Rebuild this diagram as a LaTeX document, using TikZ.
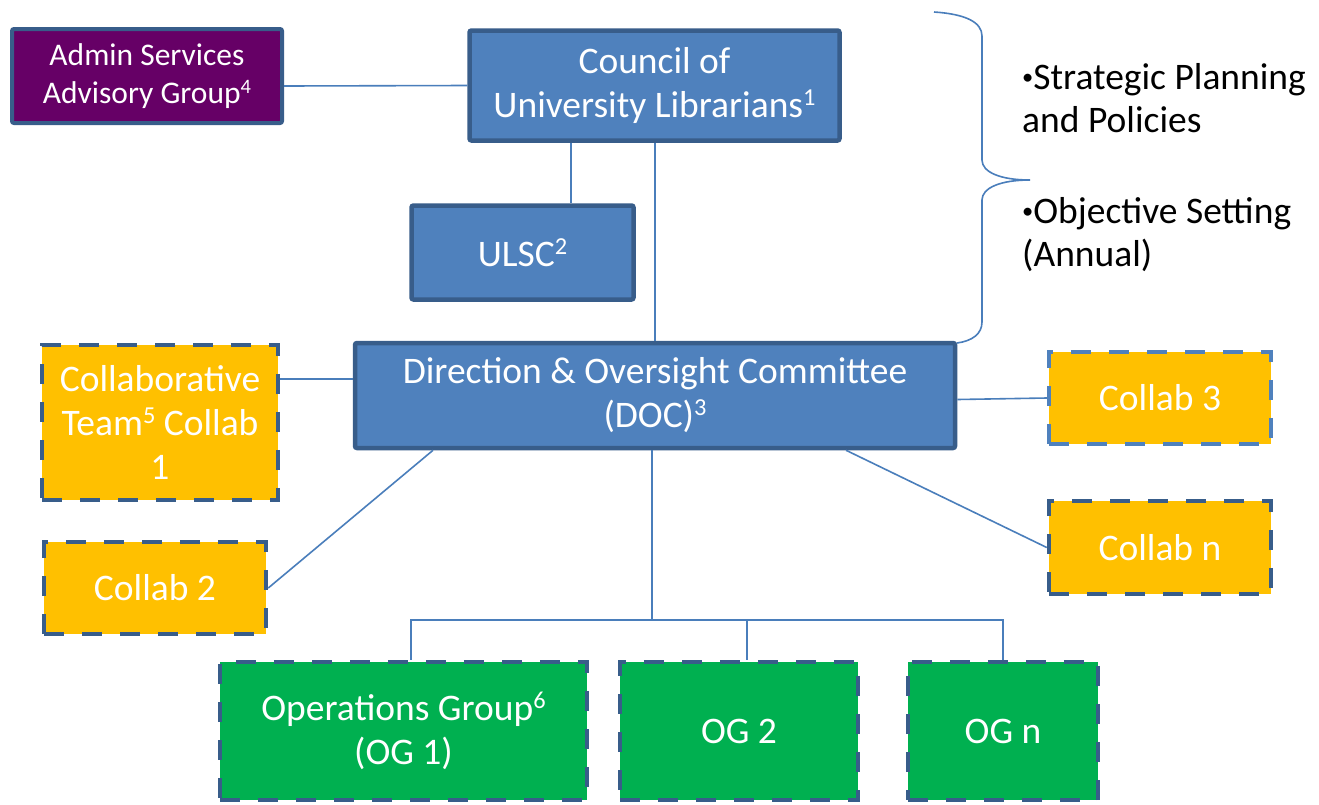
\documentclass[tikz,border=0pt]{standalone}
\usepackage{fontspec}
\setmainfont{Carlito}
\definecolor{boxblue}{HTML}{4F81BD}
\definecolor{edgeblue}{HTML}{385D8A}
\definecolor{lineblue}{HTML}{4A7EBB}
\definecolor{purp}{HTML}{660066}
\definecolor{gold}{HTML}{FFC000}
\definecolor{ogreen}{HTML}{00B050}
\newcommand{\supnum}[1]{\raisebox{0.33em}{\scalebox{0.65}{#1}}}
\newcommand{\smallbullet}{\raisebox{0.12em}{\scalebox{0.6}{•}}}
\tikzset{
  base/.style={rectangle, inner sep=0pt, align=center, text=white,
    font=\fontsize{37.5}{44}\selectfont},
  solidbox/.style={base, draw=edgeblue, line width=4.5pt, rounded corners=2pt, fill=boxblue},
  adminbox/.style={base, draw=edgeblue, line width=4pt, rounded corners=2pt, fill=purp,
    font=\fontsize{31.5}{38}\selectfont},
  collabbox/.style={base, draw=edgeblue, line width=4.5pt, fill=gold,
    dash pattern=on 20pt off 18pt},
  lightcollab/.style={collabbox, draw=boxblue},
  ogbox/.style={base, draw=edgeblue, line width=4.5pt, fill=ogreen,
    dash pattern=on 20pt off 18pt},
  conn/.style={draw=lineblue, line width=1.6pt},
  bullettext/.style={anchor=base west, inner sep=0pt, text=black,
    font=\fontsize{37.5}{44}\selectfont},
}
\begin{document}
\begin{tikzpicture}[x=1pt,y=-1pt]
\useasboundingbox[fill=white] (0,0) rectangle (1319,804);

\node[adminbox, minimum width=270pt, minimum height=94pt] (admin) at (147,76)
  {Admin Services\\Advisory Group\supnum{4}};
\node[solidbox, minimum width=370pt, minimum height=110pt] (council) at (654.5,85.5)
  {Council of\\University Librarians\supnum{1}};
\node[solidbox, minimum width=222pt, minimum height=94pt] (ulsc) at (522.5,252.5)
  {ULSC\supnum{2}};
\node[solidbox, minimum width=600pt, minimum height=105pt] (doc) at (655,395.5)
  {Direction \& Oversight Committee\\(DOC)\supnum{3}};
\node[collabbox, minimum width=236pt, minimum height=155pt] (c1) at (160,422.5)
  {Collaborative\\Team\supnum{5} Collab\\1};
\node[lightcollab, minimum width=222pt, minimum height=92pt] (c3) at (1160,398)
  {Collab 3};
\node[collabbox, minimum width=222pt, minimum height=93pt] (cn) at (1160,547.5)
  {Collab n};
\node[collabbox, minimum width=222pt, minimum height=92pt] (c2) at (155,588)
  {Collab 2};
\node[ogbox, minimum width=367pt, minimum height=138pt] (og1) at (403.5,731)
  {Operations Group\supnum{6}\\(OG 1)};
\node[ogbox, minimum width=238pt, minimum height=138pt] (og2) at (739,731)
  {OG 2};
\node[ogbox, minimum width=190pt, minimum height=138pt] (ogn) at (1003,731)
  {OG n};

\node[bullettext] (t1) at (1022,89) {\smallbullet Strategic Planning};
\node[bullettext] (t2) at (1022,132) {and Policies};
\node[bullettext] (t3) at (1022,223) {\smallbullet Objective Setting};
\node[bullettext] (t4) at (1022,266) {(Annual)};

\coordinate (k571) at (571,0);
\coordinate (k655) at (655,0);
\coordinate (k379) at (0,379);
\coordinate (k433) at (433,0);
\coordinate (k846) at (846,0);
\coordinate (bus) at (652,620);
\coordinate (b1) at (411,620);
\coordinate (b2) at (747,620);
\coordinate (b3) at (1003,620);

\draw[conn] ([yshift=-10pt]admin.east) -- (council.west);
\draw[conn] (council.south -| k571) -- (ulsc.north -| k571);
\draw[conn] (council.south -| k655) -- (doc.north -| k655);
\draw[conn] (c1.east |- k379) -- (doc.west |- k379);
\draw[conn] ([yshift=-4pt]doc.east) -- (c3.west);
\draw[conn] (doc.south -| k433) -- (c2.east);
\draw[conn] (doc.south -| k846) -- (cn.west);
\draw[conn] (doc.south -| bus) -- (bus);
\draw[conn] (og1.north -| b1) -- (b1) -- (b3) -- (ogn.north -| b3);
\draw[conn] (og2.north -| b2) -- (b2);

% brace
\draw[conn] (934,12) .. controls (965,14) and (982,22) .. (982,36)
  -- (982,160) .. controls (982,172) and (1000,180) .. (1030,180)
  .. controls (1000,180) and (982,188) .. (982,200)
  -- (982,322) .. controls (982,334) and (972,341) .. (957,343);
\end{tikzpicture}
\end{document}
